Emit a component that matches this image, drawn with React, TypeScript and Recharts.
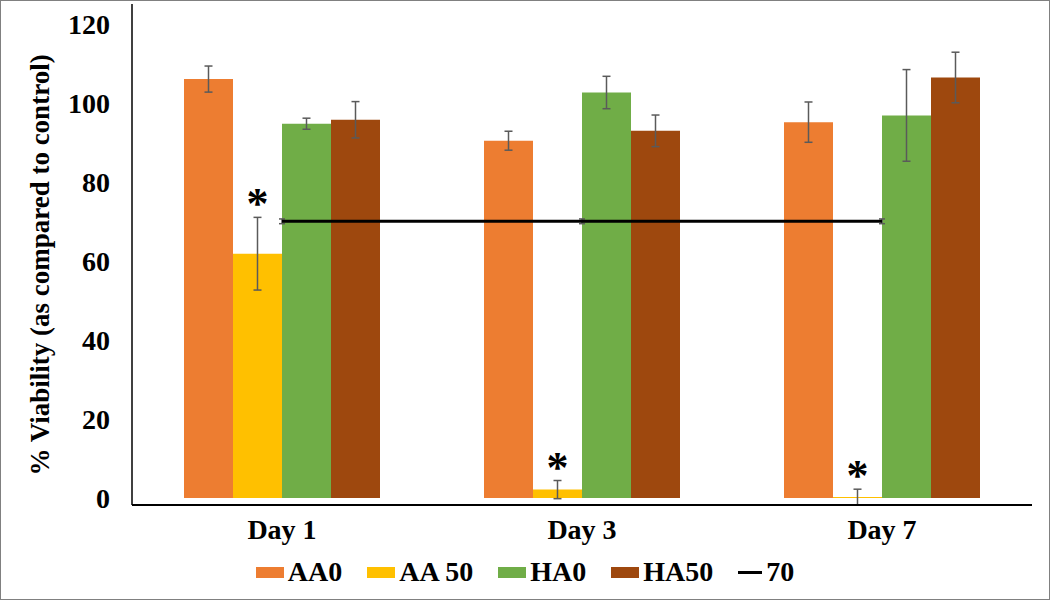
import { Bar, ComposedChart, ErrorBar, LabelList, Line, XAxis, YAxis } from "recharts";

const categories = ["Day 1", "Day 3", "Day 7"];
const aa0 = [106, 90.4, 95.1];
const aa0Err = [3.3, 2.4, 5.1];
const aa50 = [61.8, 2.1, 0.2];
const aa50Err = [9.2, 2.3, 2.0];
const ha0 = [94.7, 102.6, 96.8];
const ha0Err = [1.4, 4.1, 11.6];
const ha50 = [95.7, 92.9, 106.4];
const ha50Err = [4.6, 4.0, 6.4];
const threshold = [70, 70, 70];
const thresholdErr = [0.6, 0.6, 0.6];
const yTicks = [0, 20, 40, 60, 80, 100, 120];
const seriesNames = ["AA0", "AA 50", "HA0", "HA50", "70"];
const seriesColors = ["#ED7D31", "#FFC000", "#70AD47", "#9E480E", "#000000"];

const SERIF = "Liberation Serif, Tinos, Times New Roman, Times, DejaVu Serif, serif";
const PX_PER_UNIT = 494 / 125; // plot height / y domain

const data = categories.map((day, i) => ({
  day,
  aa0: aa0[i],
  aa0Err: aa0Err[i],
  aa50: aa50[i],
  aa50Err: aa50Err[i],
  ha0: ha0[i],
  ha0Err: ha0Err[i],
  ha50: ha50[i],
  ha50Err: ha50Err[i],
  line: threshold[i],
  lineErr: thresholdErr[i],
}));

const tickStyle = { fill: "#000", fontSize: 28, fontWeight: 700, fontFamily: SERIF };

// asterisk sitting just above the AA 50 error bar
function Star(props: any) {
  const { x, y, width, value } = props;
  const top = Number(y) - Number(value) * PX_PER_UNIT;
  return (
    <text x={Number(x) + Number(width) / 2} y={top + 1} textAnchor="middle" fontSize={44} fontWeight={700} style={{ fontFamily: SERIF }} fill="#000">
      *
    </text>
  );
}

function YLabel() {
  return (
    <text
      x={40}
      y={265}
      transform="rotate(-90 40 265)"
      textAnchor="middle"
      dominantBaseline="central"
      fontSize={27}
      fontWeight={700}
      style={{ fontFamily: SERIF }}
      fill="#000"
    >
      % Viability (as compared to control)
    </text>
  );
}

function LegendRow() {
  return (
    <div
      style={{
        position: "absolute",
        top: 553,
        left: 0,
        width: 1050,
        height: 38,
        display: "flex",
        justifyContent: "center",
        alignItems: "center",
        gap: 25,
        fontFamily: SERIF,
        fontWeight: 700,
        fontSize: 28,
        color: "#000",
      }}
    >
      {seriesNames.map((name, i) => (
        <div key={name} style={{ display: "flex", alignItems: "center", gap: 4 }}>
          {i < 4 ? (
            <span style={{ display: "inline-block", width: 28, height: 11, background: seriesColors[i] }} />
          ) : (
            <span style={{ display: "inline-block", width: 24, height: 3, background: "#000" }} />
          )}
          <span>{name}</span>
        </div>
      ))}
    </div>
  );
}

export default function App() {
  return (
    <div style={{ position: "absolute", left: 0, top: 0, width: 1050, height: 600, background: "#fff", fontFamily: SERIF }}>
      <ComposedChart
        width={1050}
        height={600}
        data={data}
        margin={{ top: 4, right: 18, bottom: 65, left: 0 }}
        barGap={0}
        barCategoryGap={52}
        style={{ fontFamily: SERIF }}
      >
        <XAxis
          dataKey="day"
          height={30}
          axisLine={{ stroke: "#000", strokeWidth: 2 }}
          tickLine={false}
          tickSize={0}
          tickMargin={14}
          tick={tickStyle}
        />
        <YAxis
          width={132}
          domain={[0, 125]}
          ticks={yTicks}
          interval={0}
          axisLine={{ stroke: "#000", strokeWidth: 1.5 }}
          tickLine={false}
          tickSize={0}
          tickMargin={22}
          tick={tickStyle}
          label={<YLabel />}
        />
        <Bar dataKey="aa0" fill={seriesColors[0]} isAnimationActive={false}>
          <ErrorBar dataKey="aa0Err" stroke="#5a5a5a" strokeWidth={1.5} width={4} />
        </Bar>
        <Bar dataKey="aa50" fill={seriesColors[1]} isAnimationActive={false}>
          <ErrorBar dataKey="aa50Err" stroke="#5a5a5a" strokeWidth={1.5} width={4} />
          <LabelList dataKey="aa50Err" content={<Star />} />
        </Bar>
        <Bar dataKey="ha0" fill={seriesColors[2]} isAnimationActive={false}>
          <ErrorBar dataKey="ha0Err" stroke="#5a5a5a" strokeWidth={1.5} width={4} />
        </Bar>
        <Bar dataKey="ha50" fill={seriesColors[3]} isAnimationActive={false}>
          <ErrorBar dataKey="ha50Err" stroke="#5a5a5a" strokeWidth={1.5} width={4} />
        </Bar>
        <Line dataKey="line" stroke="#000" strokeWidth={3} dot={false} isAnimationActive={false}>
          <ErrorBar dataKey="lineErr" stroke="#5a5a5a" strokeWidth={1.5} width={3} />
        </Line>
      </ComposedChart>
      <LegendRow />
      <div
        style={{
          position: "absolute",
          left: 0,
          top: 0,
          width: 1050,
          height: 600,
          boxSizing: "border-box",
          border: "1px solid #808080",
          pointerEvents: "none",
        }}
      />
    </div>
  );
}
